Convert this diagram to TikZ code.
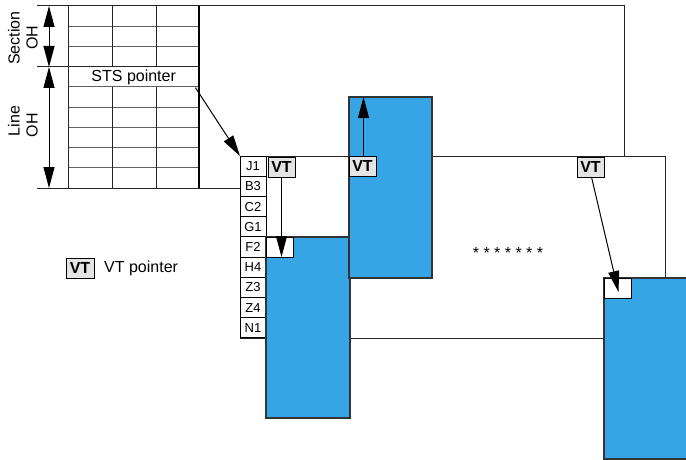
\documentclass[tikz,border=0pt]{standalone}
\usepackage{fontspec}
\setmainfont{Liberation Sans}
\usetikzlibrary{arrows.meta}

\definecolor{payblue}{RGB}{54,165,230}
\definecolor{vtgray}{RGB}{228,228,228}
\definecolor{rulegray}{RGB}{95,95,95}

\tikzset{
  cell/.style={draw, line width=1pt, minimum width=26pt, minimum height=20.2pt,
    inner sep=0pt, outer sep=0pt, anchor=north west, font=\fontsize{13}{13}\selectfont},
  vtbox/.style={draw, fill=vtgray, line width=1pt, minimum width=27pt, minimum height=20pt,
    inner sep=0pt, outer sep=0pt, anchor=north west, font=\bfseries\fontsize{16}{16}\selectfont},
  payload/.style={draw=black!80, fill=payblue, line width=1.3pt, inner sep=0pt,
    outer sep=0pt, anchor=north west},
  slot/.style={draw, fill=white, line width=1pt, minimum width=27pt, minimum height=20pt,
    inner sep=0pt, outer sep=0pt, anchor=north west},
  tip/.style={-{Triangle[length=21pt,width=11pt]}, line width=1pt},
  twotip/.style={{Triangle[length=21pt,width=11pt]}-{Triangle[length=21pt,width=11pt]}, line width=1pt},
  frameline/.style={line width=1pt, black!85},
  gridline/.style={line width=1pt, rulegray},
  lbl/.style={font=\fontsize{16}{16}\selectfont, inner sep=0pt},
}

\begin{document}
\begin{tikzpicture}[x=1pt,y=-1pt]
\useasboundingbox (0,0) rectangle (686,460);
\clip (0,0) rectangle (686,460);

% ---- transport overhead block ----
\foreach \r in {1,2,4,5,6,7,8}
  \draw[gridline] (68,{6+20.22*\r}) -- (199,{6+20.22*\r});
\foreach \c in {112,156} {
  \draw[frameline] (\c,6) -- (\c,67);
  \draw[frameline] (\c,87) -- (\c,188);
}
\draw[frameline] (68,6) -- (68,188);
\draw[frameline] (37,6) -- (624,6) -- (624,156);
\draw[frameline] (37,67) -- (199,67);
\draw[frameline] (37,188) -- (240,188);
\draw[line width=2pt] (199,6) -- (199,188);

\node[lbl, minimum width=131pt, minimum height=20.2pt, anchor=north west] (sts) at (68,67) {STS pointer};

% overhead extents
\coordinate (secTop) at (49,6);
\coordinate (secBot) at (49,67);
\coordinate (lineBot) at (49,188);
\draw[twotip] (secTop) -- (secBot);
\draw[twotip] (secBot) -- (lineBot);
\node[lbl, rotate=90] (secA) at (14,38) {Section};
\node[lbl, rotate=90] (secB) at (32,38) {OH};
\node[lbl, rotate=90] (lineA) at (14,121) {Line};
\node[lbl, rotate=90] (lineB) at (32,125) {OH};

% ---- STS-1 SPE frame ----
\draw[frameline] (240,156) rectangle (665,338);

% POH column
\foreach \t [count=\i from 0] in {J1,B3,C2,G1,F2,H4,Z3,Z4,N1}
  \node[cell, fill=white] (poh\t) at (240,{156+20.22*\i}) {\t};

% ---- virtual tributaries ----
\node[payload, minimum width=84pt, minimum height=181pt] (pay1) at (266,237) {};
\node[payload, minimum width=83pt, minimum height=181pt] (pay2) at (349,97) {};
\node[payload, minimum width=86pt, minimum height=181pt] (pay3) at (604,278) {};
\node[slot] (slot1) at (266,237) {};
\node[slot] (slot3) at (604,278) {};

\node[vtbox] (vt1) at (268,157) {VT};
\node[vtbox] (vt2) at (349,156) {VT};
\node[vtbox] (vt3) at (577,157) {VT};

\node[lbl, anchor=base] (dots) at (508,258) {* * * * * * *};

% ---- pointers ----
\draw[tip] ([xshift=-4pt]sts.south east) -- (pohJ1.north west);
\draw[tip] (vt1.south) -- (vt1.south |- slot1.south);
\draw[tip] ([xshift=1pt]vt2.north) -- ([xshift=1pt]vt2.north |- pay2.north);
\draw[tip] ([xshift=1pt]vt3.south) -- ([xshift=1pt,yshift=-4pt]slot3.center);

% ---- legend ----
\node[vtbox, minimum width=28pt] (legVT) at (66,258) {VT};
\node[lbl, anchor=west] (legText) at (104,268) {VT pointer};
\end{tikzpicture}
\end{document}
